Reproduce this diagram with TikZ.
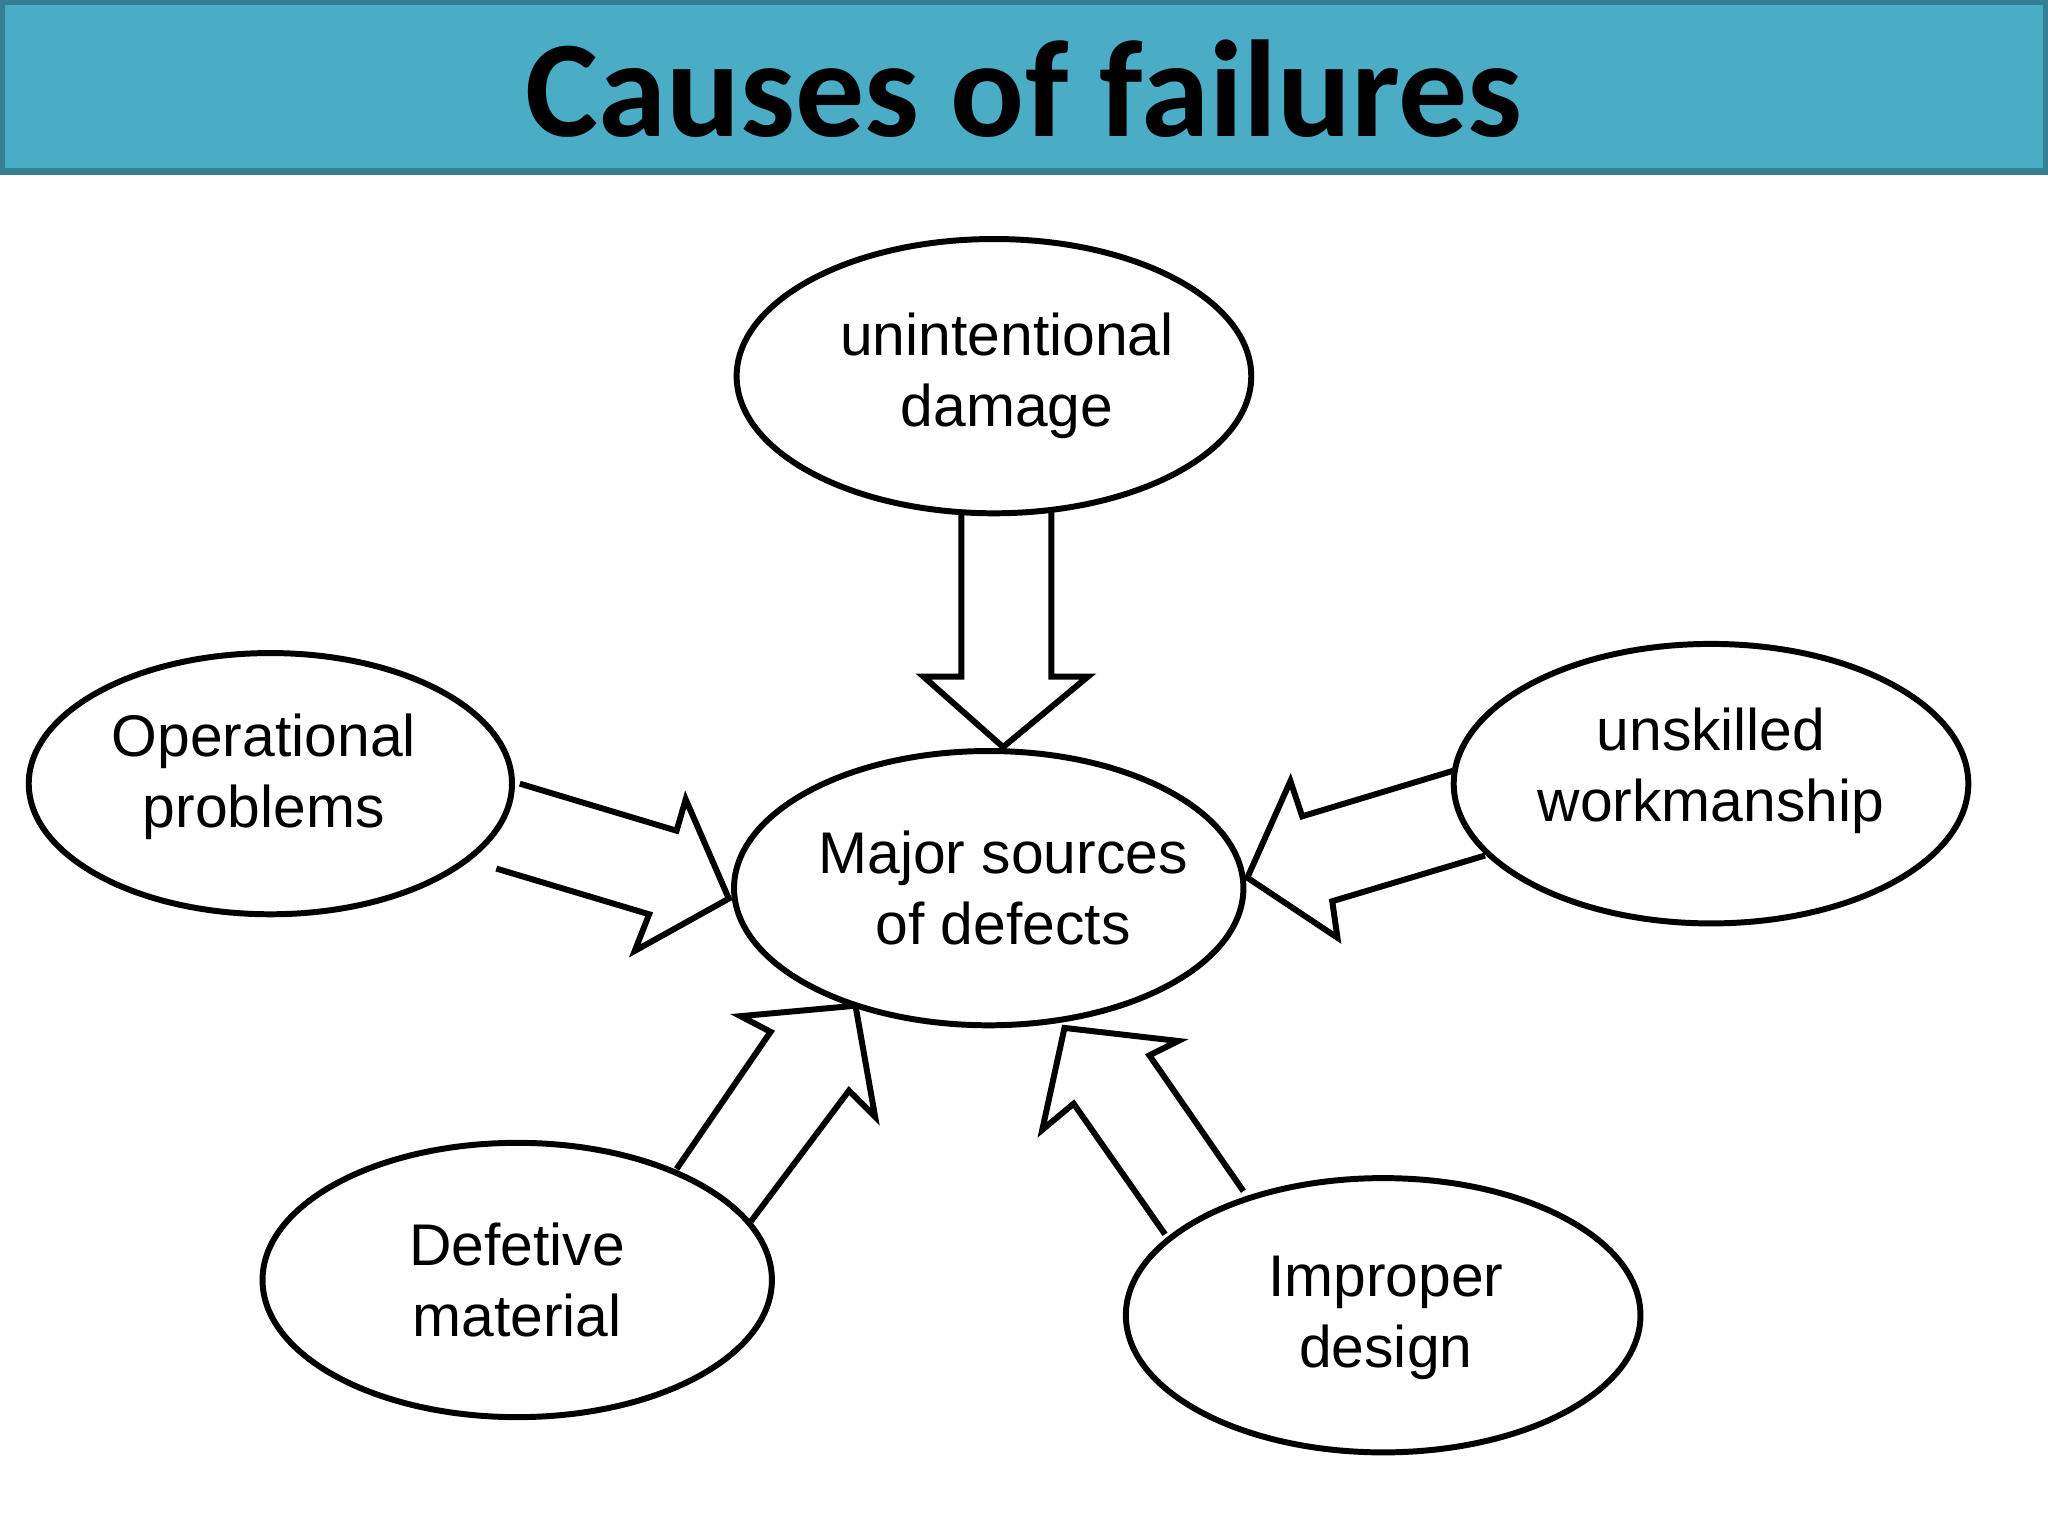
\documentclass[tikz,border=0pt]{standalone}
\usepackage{fontspec}
\setmainfont{Liberation Sans}
\newfontfamily\titlefont{Carlito}
\usetikzlibrary{shapes.geometric}
\definecolor{hdr}{HTML}{4BACC6}
\definecolor{hdrline}{HTML}{357E94}
\begin{document}
\begin{tikzpicture}[x=0.01cm,y=-0.01cm,
  oval/.style={align=center,font=\fontsize{12.8}{15.5}\selectfont},
  blk/.style={draw,line width=1.3pt,fill=white,line join=miter}]
\useasboundingbox (0,0) rectangle (1568,1176);
\fill[white] (0,0) rectangle (1568,1176);
\draw[fill=hdr,draw=hdrline,line width=1.5pt] (1,1) rectangle (1567,131);
\node[font=\titlefont\bfseries\fontsize{30}{34}\selectfont] (title) at (784,68) {Causes of failures};
% block arrows
\draw[blk] (736,380) -- (736,518) -- (707,518) -- (768,572) -- (833,518) -- (805,518) -- (805,380) -- cycle;
\draw[blk] (398,600) -- (518,636) -- (525,612) -- (558,688) -- (486,728) -- (497,700) -- (380,665);
\draw[blk] (1113,590) -- (997,625) -- (988,598) -- (955,672) -- (1024,718) -- (1020,690) -- (1137,655);
\draw[blk] (518,895) -- (590,790) -- (567,778) -- (655,770) -- (670,855) -- (650,835) -- (575,935);
\draw[blk] (892,945) -- (822,845) -- (798,865) -- (815,787) -- (902,797) -- (880,808) -- (952,912);
% ellipses
\draw[line width=1.3pt,fill=white] (761,288) ellipse [x radius=197,y radius=105];
\node[oval] (top) at (771,288) {unintentional\\damage};
\draw[line width=1.3pt,fill=white] (757,680) ellipse [x radius=195,y radius=105];
\node[oval] (ctr) at (768,680) {Major sources\\of defects};
\draw[line width=1.3pt,fill=white] (207,600) ellipse [x radius=185,y radius=100];
\node[oval] (left) at (202,595) {Operational\\problems};
\draw[line width=1.3pt,fill=white] (1310,600) ellipse [x radius=197,y radius=107];
\node[oval] (right) at (1310,590) {unskilled\\workmanship};
\draw[line width=1.3pt,fill=white] (396,980) ellipse [x radius=195,y radius=105];
\node[oval] (bl) at (396,980) {Defetive\\material};
\draw[line width=1.3pt,fill=white] (1059,1007) ellipse [x radius=197,y radius=105];
\node[oval] (br) at (1061,1009) {Improper\\design};
\end{tikzpicture}
\end{document}
